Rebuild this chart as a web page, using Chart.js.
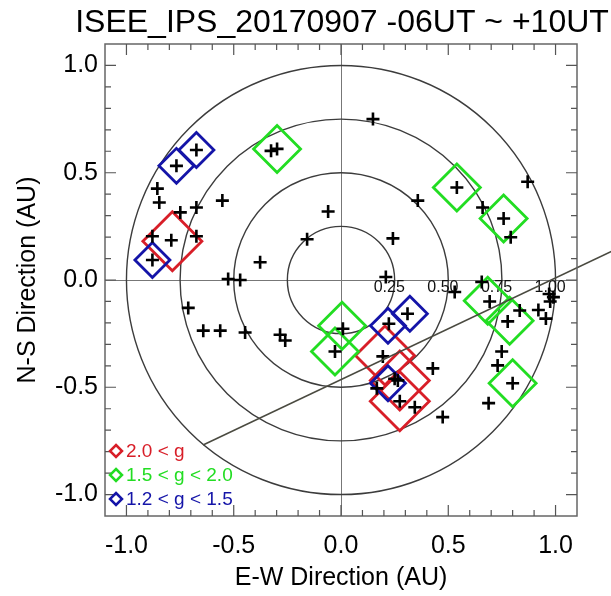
<!DOCTYPE html>
<html><head><meta charset="utf-8">
<script src="https://cdn.jsdelivr.net/npm/chart.js@4.4.0/dist/chart.umd.min.js"></script>
<style>html,body{margin:0;padding:0;background:#fff;}</style>
</head><body>
<canvas id="c" width="611" height="596"></canvas>
<script>
const titleText = 'ISEE_IPS_20170907 -06UT ~ +10UT';
const xTitle = 'E-W Direction (AU)';
const yTitle = 'N-S Direction (AU)';
const tickValues = [-1.0, -0.5, 0.0, 0.5, 1.0];
const minorStep = 0.1;
const ringRadii = [0.25, 0.5, 0.75, 1.0];
const ringLabels = ['0.25', '0.50', '0.75', '1.00'];

// all observed lines of sight (black crosses)
const crossX = [-0.674,-0.767,-0.326,-0.298,-0.856,-0.847,-0.749,-0.674,-0.553,-0.060,-0.158,-0.377,-0.526,-0.470,-0.879,-0.791,-0.674,-0.879,
  0.149,0.540,0.358,0.660,0.758,0.791,0.870,0.242,0.209,
  0.530,0.656,0.693,0.777,0.833,0.920,0.955,0.970,0.990,0.975,0.749,0.730,0.800,0.688,
  0.009,-0.028,0.223,0.310,0.195,0.265,0.274,0.167,0.344,0.428,0.474,0.250,
  -0.712,-0.642,-0.563,-0.447,-0.284,-0.260];
const crossY = [0.606,0.532,0.602,0.611,0.426,0.361,0.315,0.338,0.370,0.319,0.190,0.083,0.005,0.000,0.204,0.185,0.204,0.093,
  0.750,0.431,0.370,0.338,0.287,0.199,0.458,0.194,0.014,
  -0.056,-0.009,-0.100,-0.193,-0.142,-0.140,-0.180,-0.065,-0.080,-0.100,-0.333,-0.398,-0.481,-0.574,
  -0.227,-0.333,-0.204,-0.157,-0.356,-0.468,-0.565,-0.505,-0.593,-0.412,-0.639,-0.460,
  -0.130,-0.236,-0.236,-0.245,-0.255,-0.282];

// g-value classes
const redX = [-0.786, 0.205, 0.274, 0.274];
const redY = [0.181, -0.352, -0.468, -0.565];
const greenX = [-0.298, 0.540, 0.758, 0.684, 0.786, 0.800, 0.005, -0.028];
const greenY = [0.611, 0.431, 0.287, -0.097, -0.190, -0.481, -0.213, -0.333];
const blueX = [-0.674, -0.767, -0.879, 0.219, 0.321, 0.219];
const blueY = [0.606, 0.532, 0.093, -0.213, -0.157, -0.481];

const legendLabels = ['2.0 < g', '1.5 < g < 2.0', '1.2 < g < 1.5'];
const classColors = ['#d81e28', '#22dd22', '#1414a8'];

const lineX = [-0.643, 1.27];
const lineY = [-0.769, 0.138];

const FONT = "'Liberation Sans', Arial, Helvetica, sans-serif";
const zip = (xs, ys) => xs.map((x, i) => ({x: x, y: ys[i]}));

const decor = {
  id: 'decor',
  beforeDraw(chart) {
    const ctx = chart.ctx, ca = chart.chartArea;
    ctx.save(); ctx.fillStyle = '#fff'; ctx.fillRect(0, 0, chart.width, chart.height);
    ctx.fillStyle = '#000'; ctx.font = '32px ' + FONT;
    ctx.textAlign = 'center'; ctx.textBaseline = 'alphabetic';
    ctx.fillText(titleText, (ca.left + ca.right) / 2 + 1, 32);
    ctx.restore();
  },
  beforeDatasetsDraw(chart) {
    const ctx = chart.ctx, xs = chart.scales.x, ys = chart.scales.y, ca = chart.chartArea;
    const cx = xs.getPixelForValue(0), cy = ys.getPixelForValue(0);
    ctx.save();
    ctx.beginPath(); ctx.rect(ca.left, ca.top, ca.right - ca.left, ca.bottom - ca.top); ctx.clip();
    ctx.strokeStyle = '#3c3c3c'; ctx.lineWidth = 1.4;
    ringRadii.forEach(r => {
      const rx = xs.getPixelForValue(r) - cx, ry = cy - ys.getPixelForValue(r);
      ctx.beginPath(); ctx.ellipse(cx, cy, rx, ry, 0, 0, Math.PI * 2); ctx.stroke();
    });
    ctx.fillStyle = '#111';
    ctx.font = '16px ' + FONT;
    ctx.textAlign = 'center'; ctx.textBaseline = 'middle';
    ringRadii.forEach((r, i) => {
      ctx.fillText(ringLabels[i], xs.getPixelForValue(r - 0.025), ys.getPixelForValue(-0.035));
    });
    ctx.restore();
  },
  afterDatasetsDraw(chart) {
    const ctx = chart.ctx, xs = chart.scales.x, ys = chart.scales.y, ca = chart.chartArea;
    ctx.save();
    ctx.strokeStyle = '#666'; ctx.lineWidth = 1.5;
    ctx.strokeRect(ca.left, ca.top, ca.right - ca.left, ca.bottom - ca.top);
    ctx.lineWidth = 1.2; ctx.strokeStyle = '#555';
    const n = Math.round(1 / minorStep);
    for (let i = -n; i <= n; i++) {
      const v = i * minorStep;
      const len = (i % 5 === 0) ? 11 : 6;
      const px = xs.getPixelForValue(v), py = ys.getPixelForValue(v);
      ctx.beginPath();
      ctx.moveTo(px, ca.bottom); ctx.lineTo(px, ca.bottom - len);
      ctx.moveTo(px, ca.top); ctx.lineTo(px, ca.top + len);
      ctx.moveTo(ca.left, py); ctx.lineTo(ca.left + len, py);
      ctx.moveTo(ca.right, py); ctx.lineTo(ca.right - len, py);
      ctx.stroke();
    }
    // legend
    ctx.font = '19px ' + FONT;
    ctx.textAlign = 'left'; ctx.textBaseline = 'middle';
    legendLabels.forEach((lab, i) => {
      const y = ca.bottom - 65 + i * 24, x = ca.left + 11;
      ctx.strokeStyle = classColors[i]; ctx.lineWidth = 2.5;
      ctx.beginPath();
      ctx.moveTo(x, y - 6); ctx.lineTo(x + 6, y); ctx.lineTo(x, y + 6); ctx.lineTo(x - 6, y); ctx.closePath();
      ctx.stroke();
      ctx.fillStyle = classColors[i];
      ctx.fillText(lab, x + 10, y + 1);
    });
    ctx.restore();
  }
};

new Chart(document.getElementById('c'), {
  type: 'scatter',
  data: {
    datasets: [
      {label: 'line', type: 'line', data: zip(lineX, lineY), borderColor: '#4a4a40', borderWidth: 1.5,
        pointRadius: 0, showLine: true, fill: false, clip: false, order: 0},
      {label: 'LOS', data: zip(crossX, crossY), pointStyle: 'cross', pointRadius: 6.5,
        borderColor: '#000', borderWidth: 2.6, order: 1},
      {label: legendLabels[2], data: zip(blueX, blueY), pointStyle: 'rectRot', pointRadius: 17.5,
        borderColor: classColors[2], backgroundColor: 'rgba(0,0,0,0)', borderWidth: 2.8, order: 2},
      {label: legendLabels[1], data: zip(greenX, greenY), pointStyle: 'rectRot', pointRadius: 23.5,
        borderColor: classColors[1], backgroundColor: 'rgba(0,0,0,0)', borderWidth: 2.8, order: 3},
      {label: legendLabels[0], data: zip(redX, redY), pointStyle: 'rectRot', pointRadius: 29.5,
        borderColor: classColors[0], backgroundColor: 'rgba(0,0,0,0)', borderWidth: 2.8, order: 4}
    ]
  },
  options: {
    responsive: false,
    animation: false,
    devicePixelRatio: 1,
    layout: {padding: {left: 0, right: 34, top: 44, bottom: 0}},
    plugins: {
      legend: {display: false},
      tooltip: {enabled: false},
      title: {display: false}
    },
    scales: {
      x: {
        type: 'linear', position: 'bottom', min: -1.1, max: 1.1,
        afterBuildTicks: s => { s.ticks = tickValues.map(v => ({value: v})); },
        afterFit: s => { s.height = 80; },
        ticks: {color: '#000', font: {family: FONT, size: 25}, padding: 15, maxRotation: 0, autoSkip: false,
          callback: v => Number(v).toFixed(1)},
        grid: {drawTicks: false, lineWidth: 1, color: c => (c.tick && Math.abs(c.tick.value) < 1e-9) ? '#777' : 'rgba(0,0,0,0)'},
        border: {display: false},
        title: {display: true, text: xTitle, color: '#000', font: {family: FONT, size: 25}, padding: {top: 0, bottom: 3}}
      },
      y: {
        type: 'linear', position: 'left', min: -1.1, max: 1.1,
        afterBuildTicks: s => { s.ticks = tickValues.map(v => ({value: v})); },
        afterFit: s => { s.width = 105; },
        ticks: {color: '#000', font: {family: FONT, size: 25}, padding: 7, autoSkip: false,
          callback: v => Number(v).toFixed(1)},
        grid: {drawTicks: false, lineWidth: 1, color: c => (c.tick && Math.abs(c.tick.value) < 1e-9) ? '#777' : 'rgba(0,0,0,0)'},
        border: {display: false},
        title: {display: true, text: yTitle, color: '#000', font: {family: FONT, size: 25}, padding: {top: 13, bottom: 0}}
      }
    }
  },
  plugins: [decor]
});
</script>
</body></html>
